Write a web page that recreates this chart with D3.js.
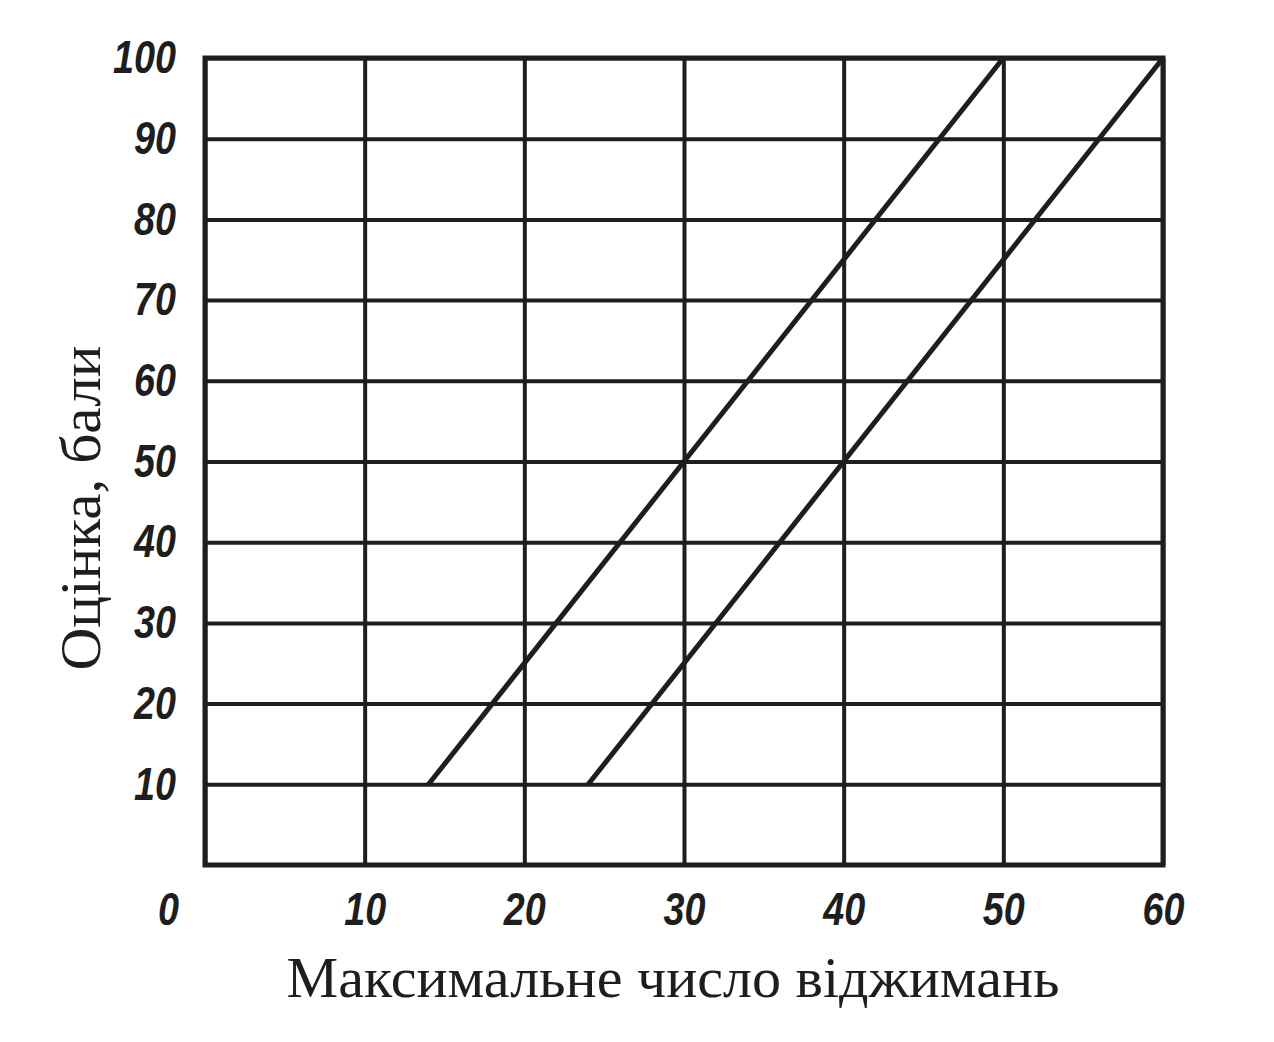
<!DOCTYPE html>
<html><head><meta charset="utf-8">
<script src="https://cdn.jsdelivr.net/npm/d3@7"></script>
<style>
body{margin:0;background:#fff;}
</style></head>
<body>
<svg id="c" width="1274" height="1042"></svg>
<script>
const xTicks = [0, 10, 20, 30, 40, 50, 60];
const yTicks = [10, 20, 30, 40, 50, 60, 70, 80, 90, 100];
const line1X = [14, 50];
const line1Y = [10, 100];
const line2X = [24, 60];
const line2Y = [10, 100];
const xTitle = "Максимальне число віджимань";
const yTitle = "Оцінка, бали";

const svg = d3.select("#c");
const m = {left: 205, right: 1163, top: 58, bottom: 865};
const x = d3.scaleLinear().domain([0, 60]).range([m.left, m.right]);
const y = d3.scaleLinear().domain([0, 100]).range([m.bottom, m.top]);
const ink = "#1e1e1e";
const tickFont = "'Liberation Sans', 'DejaVu Sans', sans-serif";

// grid via axes
const gx = svg.append("g").attr("transform", `translate(0,${m.bottom})`)
  .call(d3.axisBottom(x).tickValues(xTicks).tickSize(-(m.bottom - m.top)).tickPadding(27).tickFormat(d3.format("d")));
const gy = svg.append("g").attr("transform", `translate(${m.left},0)`)
  .call(d3.axisLeft(y).tickValues(yTicks).tickSize(-(m.right - m.left)).tickPadding(29).tickFormat(d3.format("d")));
[gx, gy].forEach(g => {
  g.select(".domain").remove();
  g.selectAll(".tick line").attr("stroke", ink).attr("stroke-width", 4);
  g.selectAll(".tick text").attr("fill", ink)
    .style("font-family", tickFont).style("font-size", "46px")
    .style("font-weight", "bold").style("font-style", "italic")
    .attr("textLength", d => String(d).length * 21)
    .attr("lengthAdjust", "spacingAndGlyphs");
});
gx.selectAll(".tick text").attr("dy", "0.71em");
// the "0" sits at the corner, left of the axis
gx.selectAll(".tick").filter(d => d === 0).select("text").attr("x", 168 - m.left);

// frame
svg.append("rect").attr("x", x(0)).attr("y", y(100))
  .attr("width", x(60) - x(0)).attr("height", y(0) - y(100))
  .attr("fill", "none").attr("stroke", ink).attr("stroke-width", 5);

// data lines
const lineGen = d3.line().x(d => x(d[0])).y(d => y(d[1]));
[[line1X, line1Y], [line2X, line2Y]].forEach(([xs, ys]) => {
  svg.append("path").datum(xs.map((v, i) => [v, ys[i]]))
    .attr("d", lineGen).attr("fill", "none")
    .attr("stroke", ink).attr("stroke-width", 5).attr("stroke-linecap", "butt");
});

// titles
svg.append("text").attr("x", 673).attr("y", 997).attr("text-anchor", "middle")
  .attr("fill", ink).style("font-family", "'Liberation Serif', serif").style("font-size", "56px")
  .attr("textLength", 773).attr("lengthAdjust", "spacingAndGlyphs")
  .text(xTitle);
svg.append("text").attr("transform", "translate(100,508) rotate(-90)").attr("text-anchor", "middle")
  .attr("fill", ink).style("font-family", "'Liberation Serif', serif").style("font-size", "57px")
  .attr("textLength", 325).attr("lengthAdjust", "spacingAndGlyphs")
  .text(yTitle);
</script>
</body></html>
